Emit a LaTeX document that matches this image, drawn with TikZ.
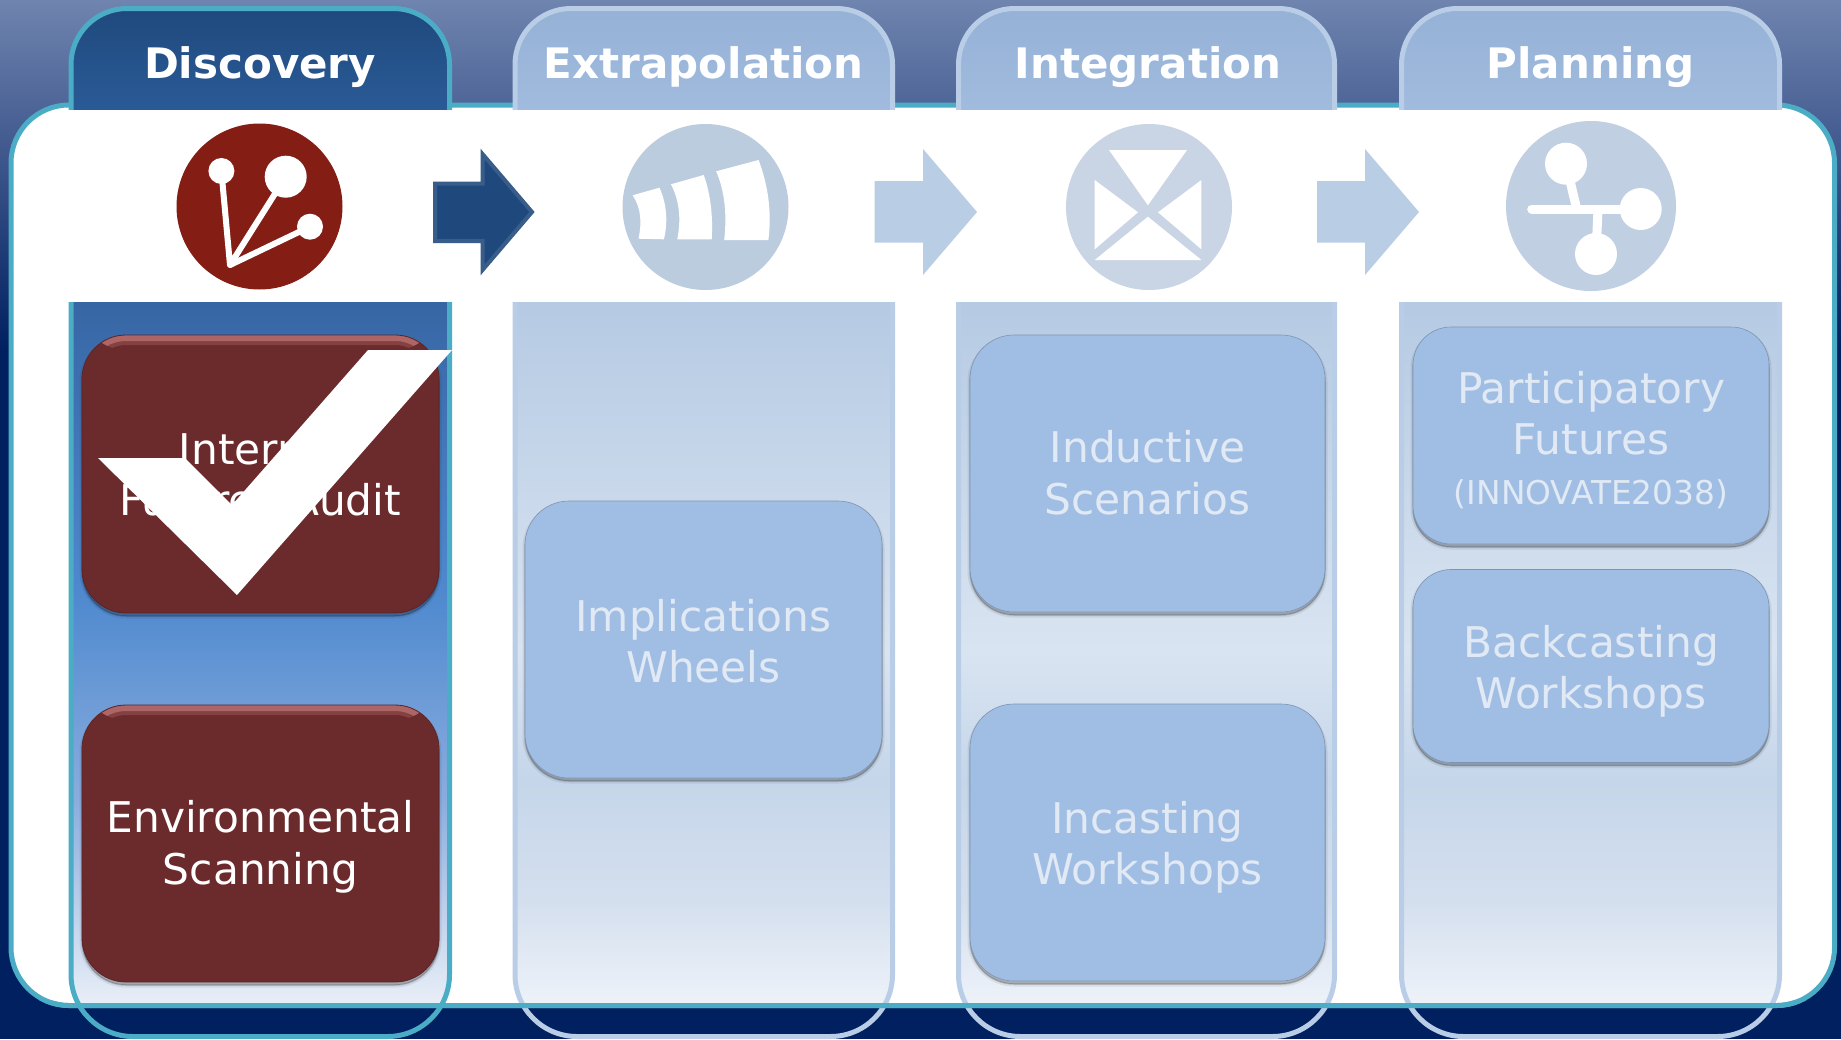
\documentclass[tikz,border=0pt]{standalone}
\usepackage{fontspec}
\setmainfont{DejaVu Sans}
\definecolor{tealline}{HTML}{4BACC6}
\definecolor{navy}{HTML}{002060}
\definecolor{bgtop}{HTML}{6F84AE}
\definecolor{bgmid}{HTML}{4A6195}
\definecolor{lineL}{HTML}{B9CDE6}
\definecolor{boxL}{HTML}{A0BEE4}
\definecolor{txtL}{HTML}{E1E9F4}
\definecolor{maroonbox}{HTML}{6B2A2B}
\definecolor{redicon}{HTML}{841D14}
\definecolor{arrowL}{HTML}{B9CDE5}
\definecolor{arrowD}{HTML}{1F497D}
\definecolor{arrowDl}{HTML}{385D8A}
\definecolor{iconA}{HTML}{BCCCDF}
\definecolor{iconB}{HTML}{C9D5E4}
\definecolor{iconC}{HTML}{C0CFE2}
\definecolor{dA}{HTML}{3766A4}
\definecolor{dB}{HTML}{508ACF}
\definecolor{dC}{HTML}{8AADDE}
\definecolor{dD}{HTML}{E8EEF7}
\definecolor{lA}{HTML}{B5CAE3}
\definecolor{lB}{HTML}{D9E4F1}
\definecolor{lC}{HTML}{C5D6EA}
\definecolor{lD}{HTML}{D4DFEE}
\definecolor{lE}{HTML}{EDF2F9}
\definecolor{tabDa}{HTML}{1F497D}
\definecolor{tabDb}{HTML}{2A5A96}
\definecolor{tabLa}{HTML}{95B1D6}
\definecolor{tabLb}{HTML}{A0BBDD}
\definecolor{hilite}{HTML}{B56C6C}
\newcommand{\colclip}[2]{\clip[rounded corners=62pt] (#1,150) rectangle (#2,1036.5);}
\newcommand{\colline}[3]{%
 \begin{scope}
  \clip (#1-5,302) rectangle (#2+5,1039);
  \draw[#3,line width=5pt,rounded corners=62pt] (#1,150) rectangle (#2,1036.5);
 \end{scope}}
\newcommand{\lightcol}[2]{%
 \begin{scope}\colclip{#1}{#2}
  \shade[top color=lA,bottom color=lB] (#1-5,302) rectangle (#2+5,651);
  \shade[top color=lB,bottom color=lC] (#1-5,650) rectangle (#2+5,781);
  \shade[top color=lC,bottom color=lD] (#1-5,780) rectangle (#2+5,901);
  \shade[top color=lD,bottom color=lE] (#1-5,900) rectangle (#2+5,1003);
 \end{scope}}
\newcommand{\tabshape}[5]{%
 \begin{scope}
  \clip[rounded corners=56pt] (#1,8.5) rectangle (#2,200);
  \shade[top color=#3,bottom color=#4] (#1-5,6) rectangle (#2+5,109);
 \end{scope}
 \begin{scope}
  \clip (#1-5,0) rectangle (#2+5,109);
  \draw[#5,line width=5pt,rounded corners=56pt] (#1,8.5) rectangle (#2,200);
 \end{scope}}
\newcommand{\lbl}[2]{\raisebox{#1}[\height][\depth]{\renewcommand{\arraystretch}{1.025}\begin{tabular}{@{}c@{}}#2\end{tabular}}}
\begin{document}
\begin{tikzpicture}[x=1pt,y=-1pt,
 softshadow/.style={
  preaction={draw=black,fill=black,draw opacity=.07,fill opacity=.07,line width=5pt,transform canvas={yshift=-3pt}},
  preaction={draw=black,fill=black,draw opacity=.16,fill opacity=.16,line width=1.5pt,transform canvas={yshift=-3pt}}},
 pillbox/.style={rounded corners=#1,align=center,inner sep=0pt,font=\fontsize{42.3}{50}\selectfont,softshadow},
 lightbox/.style={pillbox=#1,fill=boxL,text=txtL,draw=boxL!78!black,line width=.6pt},
 darkbox/.style={pillbox=44pt,fill=maroonbox,text=white,draw=maroonbox!85!black,line width=.8pt,
  path picture={
   \begin{scope}
    \clip (path picture bounding box.north west) rectangle ([yshift=-15pt]path picture bounding box.north east);
    \draw[hilite,opacity=.35,line width=20pt,rounded corners=44pt] (path picture bounding box.north west) rectangle (path picture bounding box.south east);
    \draw[hilite,opacity=.85,line width=12pt,rounded corners=44pt] (path picture bounding box.north west) rectangle (path picture bounding box.south east);
   \end{scope}}},
 tabtitle/.style={anchor=base,font=\fontsize{42}{50}\selectfont\bfseries,text=white},
 wire/.style={draw=white,line width=6pt,line join=round},
 wireB/.style={draw=white,line width=9pt,line cap=round}]
\useasboundingbox (0,0) rectangle (1841,1039);
% background
\fill[navy] (0,0) rectangle (1841,1039);
\shade[top color=bgtop,bottom color=bgmid] (0,0) rectangle (1841,120.5);
\shade[top color=bgmid,bottom color=navy] (0,120) rectangle (1841,350);
% panel
\filldraw[fill=white,draw=tealline,line width=5pt,rounded corners=58pt] (11,105) rectangle (1834.5,1005.5);
% column bodies
\begin{scope}\colclip{71}{449.5}
 \shade[top color=dA,bottom color=dB] (60,302) rectangle (460,601);
 \shade[top color=dB,bottom color=dC] (60,600) rectangle (460,801);
 \shade[top color=dC,bottom color=dD] (60,800) rectangle (460,1003);
\end{scope}
\lightcol{515}{892.5}
\lightcol{958.5}{1334.5}
\lightcol{1401.5}{1779.5}
\colline{71}{449.5}{tealline}
\colline{515}{892.5}{lineL}
\colline{958.5}{1334.5}{lineL}
\colline{1401.5}{1779.5}{lineL}
% panel bottom line over the columns
\begin{scope}
 \clip (0,1000) rectangle (1841,1039);
 \draw[tealline,line width=5pt,rounded corners=58pt] (11,105) rectangle (1834.5,1005.5);
\end{scope}
% tabs
\tabshape{71}{449.5}{tabDa}{tabDb}{tealline}
\tabshape{515}{892.5}{tabLa}{tabLb}{lineL}
\tabshape{958.5}{1334.5}{tabLa}{tabLb}{lineL}
\tabshape{1401.5}{1779.5}{tabLa}{tabLb}{lineL}
\node[tabtitle] (t1) at (260,78) {Discovery};
\node[tabtitle] (t2) at (703.75,78) {Extrapolation};
\node[tabtitle] (t3) at (1148,78) {Integration};
\node[tabtitle] (t4) at (1590.5,78) {Planning};
% arrows
\filldraw[fill=arrowD,draw=arrowDl,line width=4pt,miter limit=10] (435,183.5) -- (482.5,183.5) -- (482.5,154) -- (532,212) -- (482.5,270) -- (482.5,241) -- (435,241) -- cycle;
\fill[arrowL] (874.6,181) -- (923,181) -- (923,149) -- (977,212) -- (923,275) -- (923,242.7) -- (874.6,242.7) -- cycle;
\fill[arrowL] (1317,181) -- (1365,181) -- (1365,149) -- (1419,212) -- (1365,275) -- (1365,242.7) -- (1317,242.7) -- cycle;
% icon 1
\fill[redicon] (259.5,206.5) circle[radius=83];
\draw[wire] (221.4,171) -- (230,265) -- (285.7,176.7);
\draw[wire] (230,265) -- (310,226.7);
\fill[white] (221.4,171) circle[radius=13];
\fill[white] (285.7,176.7) circle[radius=21];
\fill[white] (310,226.7) circle[radius=13];
% icon 2
\fill[iconA] (705.5,207) circle[radius=83];
\fill[white] (632.7,195.3) -- (659.5,187.7) .. controls (667,205) and (668,222) .. (663.9,239.3) -- (638.5,238.7) .. controls (642,222) and (641,208) .. cycle;
\fill[white] (671,184.3) -- (703.7,175) .. controls (711,195) and (713,218) .. (711.7,239.3) -- (677.3,239.3) .. controls (681,220) and (680,202) .. cycle;
\fill[white] (716.2,171.3) -- (758.6,160) .. controls (768,185) and (772,212) .. (768.4,240) -- (724.2,240) .. controls (727,215) and (725,192) .. cycle;
% icon 3
\fill[iconB] (1149,207) circle[radius=83];
\fill[white] (1109,150) -- (1187,150) -- (1147.9,205.3) -- cycle;
\fill[white] (1094.7,180) -- (1138,212.3) -- (1094.7,249.3) -- cycle;
\fill[white] (1201.4,180) -- (1158,212.3) -- (1201.4,249.3) -- cycle;
\fill[white] (1147.9,216.7) -- (1201.4,260) -- (1094.7,260) -- cycle;
% icon 4
\fill[iconC] (1591,206) circle[radius=85];
\draw[wireB] (1531.7,209) -- (1640.7,209);
\draw[draw=white,line width=9pt] (1566,163.7) -- (1576.7,209);
\draw[draw=white,line width=9pt] (1598,209) -- (1596,254);
\fill[white] (1566,163.7) circle[radius=21];
\fill[white] (1640.7,209) circle[radius=21];
\fill[white] (1596,254) circle[radius=21];
% boxes
\node[darkbox,minimum width=357pt,minimum height=278pt] (b1) at (260.5,474) {\lbl{-6pt}{Internal\\Futures Audit}};
\node[darkbox,minimum width=357pt,minimum height=277pt] (b2) at (260.5,843.5) {\lbl{-4.7pt}{Environmental\\Scanning}};
\node[lightbox=44pt,minimum width=357pt,minimum height=277pt] (b3) at (703.5,639.5) {\lbl{-7pt}{Implications\\Wheels}};
\node[lightbox=44pt,minimum width=355pt,minimum height=277pt] (b4) at (1147.5,473.5) {\lbl{-4.7pt}{Inductive\\Scenarios}};
\node[lightbox=44pt,minimum width=355pt,minimum height=277pt] (b5) at (1147.5,842.5) {\lbl{-6pt}{Incasting\\Workshops}};
\node[lightbox=38pt,minimum width=356pt,minimum height=217pt] (b6) at (1591,435.5) {\lbl{-8pt}{Participatory\\Futures\\[-2pt]{\fontsize{32.8}{36}\selectfont (INNOVATE2038)}}};
\node[lightbox=38pt,minimum width=356pt,minimum height=193pt] (b7) at (1591,666) {\lbl{-7pt}{Backcasting\\Workshops}};
% check mark
\fill[white] (98,458) -- (185,458) -- (232,505) -- (368,350) -- (452,350) -- (237,595) -- cycle;
\end{tikzpicture}
\end{document}
